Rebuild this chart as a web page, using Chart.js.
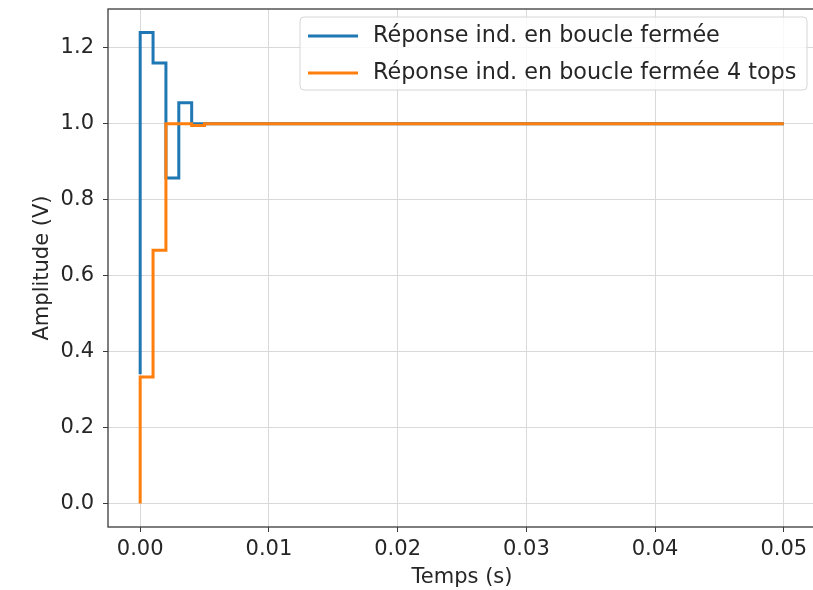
<!DOCTYPE html>
<html><head><meta charset="utf-8">
<script src="https://cdn.jsdelivr.net/npm/chart.js@4"></script>
<style>
html,body{margin:0;padding:0;background:#fff;overflow:hidden;width:813px;height:590px}
#wrap{position:absolute;left:0;top:0;width:900px;height:590px}
</style>
</head><body><div id="wrap"><canvas id="c" width="900" height="590"></canvas></div>
<script>
// ---- data ----
const timesBlue   = [0, 0.001, 0.002, 0.003, 0.004, 0.005, 0.05];
const valuesBlue  = [0.34, 1.24, 1.16, 0.857, 1.055, 1.0, 1.0];
const timesOrange = [0, 0.001, 0.002, 0.003, 0.004, 0.005, 0.006, 0.05];
const valuesOrange= [0, 0.333, 0.667, 1.0, 1.0, 0.995, 1.0, 1.0];
const seriesLabels = ['Réponse ind. en boucle fermée', 'Réponse ind. en boucle fermée 4 tops'];
const xTicks = [0, 0.01, 0.02, 0.03, 0.04, 0.05];
const yTicks = [0, 0.2, 0.4, 0.6, 0.8, 1.0, 1.2];
const xTitle = 'Temps (s)';
const yTitle = 'Amplitude (V)';

const FONT = 'DejaVu Sans';
const FS = 21;
const LFS = 22.3;
const TXT = '#262626';

const toPts = (xs, ys) => xs.map((x, i) => ({x, y: ys[i]}));

const framePlugin = {
  id: 'frame',
  afterDatasetsDraw(chart) {
    const a = chart.chartArea, ctx = chart.ctx;
    ctx.save();
    ctx.strokeStyle = '#3a3a3a';
    ctx.lineWidth = 1.3;
    ctx.strokeRect(a.left, a.top, a.right - a.left, a.bottom - a.top);
    ctx.restore();
  }
};

const legendPlugin = {
  id: 'mplLegend',
  afterDraw(chart) {
    const a = chart.chartArea, ctx = chart.ctx;
    ctx.save();
    const left = a.left + 192, top = a.top + 8, right = a.right - 9, bottom = a.top + 81;
    ctx.beginPath();
    ctx.roundRect(left, top, right - left, bottom - top, 4);
    ctx.fillStyle = 'rgba(255,255,255,0.8)';
    ctx.fill();
    ctx.strokeStyle = '#d6d6d6';
    ctx.lineWidth = 1;
    ctx.stroke();
    ctx.font = LFS + 'px "' + FONT + '"';
    ctx.textBaseline = 'middle';
    chart.data.datasets.forEach((ds, i) => {
      const y = a.top + 27 + i * 37;
      ctx.beginPath();
      ctx.moveTo(left + 8, y);
      ctx.lineTo(left + 58, y);
      ctx.strokeStyle = ds.borderColor;
      ctx.lineWidth = 3;
      ctx.stroke();
      ctx.fillStyle = TXT;
      ctx.fillText(ds.label, left + 73, y);
    });
    ctx.restore();
  }
};

new Chart(document.getElementById('c'), {
  type: 'line',
  data: {
    datasets: [
      { label: seriesLabels[0], data: toPts(timesBlue, valuesBlue), borderColor: '#1f77b4', order: 1,
        borderWidth: 3, pointRadius: 0, stepped: 'after', fill: false, borderJoinStyle: 'miter' },
      { label: seriesLabels[1], data: toPts(timesOrange, valuesOrange), borderColor: '#ff7f0e', order: 0,
        borderWidth: 3, pointRadius: 0, stepped: 'after', fill: false, borderJoinStyle: 'miter' }
    ]
  },
  options: {
    responsive: false,
    animation: false,
    events: [],
    layout: { padding: { left: 0, top: 9, right: 84, bottom: 0 } },
    plugins: { legend: { display: false }, tooltip: { enabled: false } },
    scales: {
      x: {
        type: 'linear', min: -0.0025, max: 0.0525,
        afterBuildTicks: s => { s.ticks = xTicks.map(v => ({value: v})); },
        afterFit: s => { s.height = 63; s.paddingLeft = 0; s.paddingRight = 0; },
        grid: { color: '#d9d9d9', lineWidth: 1, tickLength: 5, tickColor: '#3a3a3a', drawTicks: true },
        border: { display: false },
        ticks: { color: TXT, font: { family: FONT, size: FS }, padding: 5, maxRotation: 0,
                 callback: v => v.toFixed(2) },
        title: { display: true, text: xTitle, color: TXT, font: { family: FONT, size: FS },
                 padding: { top: 0, bottom: 0 } }
      },
      y: {
        type: 'linear', min: -0.062, max: 1.302,
        afterBuildTicks: s => { s.ticks = yTicks.map(v => ({value: v})); },
        afterFit: s => { s.width = 108; s.paddingTop = 0; s.paddingBottom = 0; },
        grid: { color: '#d9d9d9', lineWidth: 1, tickLength: 5, tickColor: '#3a3a3a', drawTicks: true },
        border: { display: false },
        ticks: { color: TXT, font: { family: FONT, size: FS }, padding: 9,
                 callback: v => v.toFixed(1) },
        title: { display: true, text: yTitle, color: TXT, font: { family: FONT, size: FS },
                 padding: { top: 30, bottom: 0 } }
      }
    }
  },
  plugins: [framePlugin, legendPlugin]
});
</script>
</body></html>
